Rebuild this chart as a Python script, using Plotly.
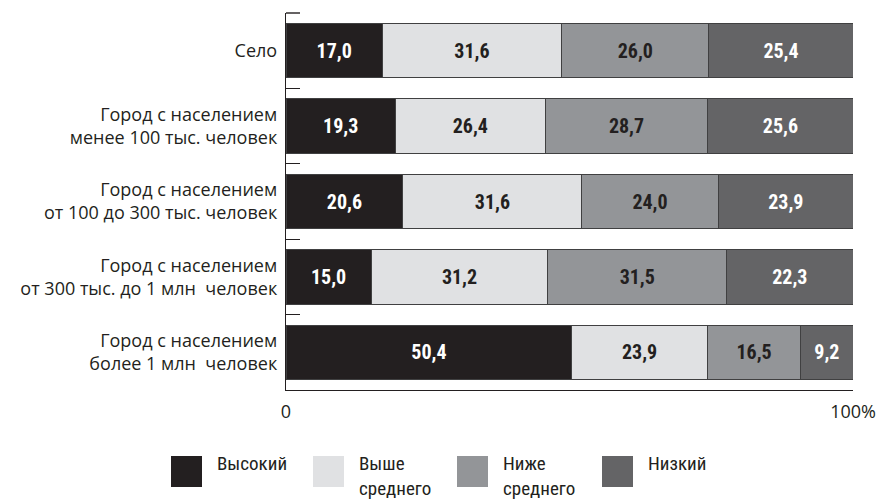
import plotly.graph_objects as go

# Settlement types (top to bottom) and income-level shares, %
categories = [
    "Село",
    "Город с населением<br>менее 100 тыс. человек",
    "Город с населением<br>от 100 до 300 тыс. человек",
    "Город с населением<br>от 300 тыс. до 1 млн  человек",
    "Город с населением<br>более 1 млн  человек",
]
high = [17.0, 19.3, 20.6, 15.0, 50.4]
above_avg = [31.6, 26.4, 31.6, 31.2, 23.9]
below_avg = [26.0, 28.7, 24.0, 31.5, 16.5]
low = [25.4, 25.6, 23.9, 22.3, 9.2]

series_names = ["Высокий", "Выше<br>среднего", "Ниже<br>среднего", "Низкий"]
series_values = [high, above_avg, below_avg, low]
fill_colors = ["#231f20", "#e0e1e3", "#939598", "#646466"]
text_colors = ["#ffffff", "#231f20", "#231f20", "#ffffff"]

x_tickvals = [0, 100]
x_ticktext = ["0", "100%"]

W, H = 880, 503
L, R, T, B = 286, 27, 13, 113
PW, PH = W - L - R, H - T - B


def px_x(px):
    return (px - L) / PW


def px_y(py):
    return (H - B - py) / PH


value_font = "Roboto Condensed, Liberation Sans Narrow, sans-serif"
label_font = "Open Sans, Noto Sans, sans-serif"
legend_font = "Roboto Condensed, Liberation Sans Narrow, sans-serif"
ink = "#231f20"

fig = go.Figure()
for name, vals, fc, tc in zip(series_names, series_values, fill_colors, text_colors):
    fig.add_trace(go.Bar(
        y=categories,
        x=vals,
        orientation="h",
        name=name,
        marker=dict(color=fc, line=dict(color="#404041", width=1)),
        text=[f"{v:.1f}".replace(".", ",") for v in vals],
        textposition="inside",
        insidetextanchor="middle",
        textangle=0,
        textfont=dict(family=value_font, size=20, color=tc, weight="bold"),
        hoverinfo="skip",
        showlegend=False,
    ))

# Short tick closing the category axis at the top
shapes = [dict(
    type="line", xref="paper", yref="paper",
    x0=0, x1=px_x(L + 14), y0=1, y1=1,
    line=dict(color=ink, width=1.4),
)]

# Legend: swatches with labels below the plot
legend_left = [171, 313, 457, 602]
swatch = 31
annotations = []
for lx, name, fc in zip(legend_left, series_names, fill_colors):
    shapes.append(dict(
        type="rect", xref="paper", yref="paper",
        x0=px_x(lx), x1=px_x(lx + swatch), y0=px_y(456 + swatch), y1=px_y(456),
        fillcolor=fc, line=dict(width=0),
    ))
    annotations.append(dict(
        x=px_x(lx + 45), y=px_y(451), xref="paper", yref="paper",
        xanchor="left", yanchor="top", align="left", showarrow=False,
        borderpad=0,
        text=name, font=dict(family=legend_font, size=19, color=ink),
    ))

fig.update_layout(
    width=W, height=H,
    margin=dict(l=L, r=R, t=T, b=B, pad=0),
    barmode="stack",
    bargap=0.28,
    plot_bgcolor="white",
    paper_bgcolor="white",
    shapes=shapes,
    annotations=annotations,
    xaxis=dict(
        range=[0, 100],
        tickvals=x_tickvals,
        ticktext=x_ticktext,
        ticks="inside", ticklen=10, tickcolor=ink, tickwidth=1,
        showline=True, linecolor=ink, linewidth=1.4,
        showgrid=False, zeroline=False, automargin=False,
        tickfont=dict(family=label_font, size=18, color=ink),
        ticklabelstandoff=5,
    ),
    yaxis=dict(
        autorange="reversed",
        ticks="inside", tickson="boundaries", ticklen=14,
        tickcolor=ink, tickwidth=1.4,
        showline=True, linecolor=ink, linewidth=1.4,
        showgrid=False, zeroline=False, automargin=False,
        tickfont=dict(family=label_font, size=18, color=ink),
        ticklabelstandoff=4,
    ),
)

fig.write_html("out.html")
